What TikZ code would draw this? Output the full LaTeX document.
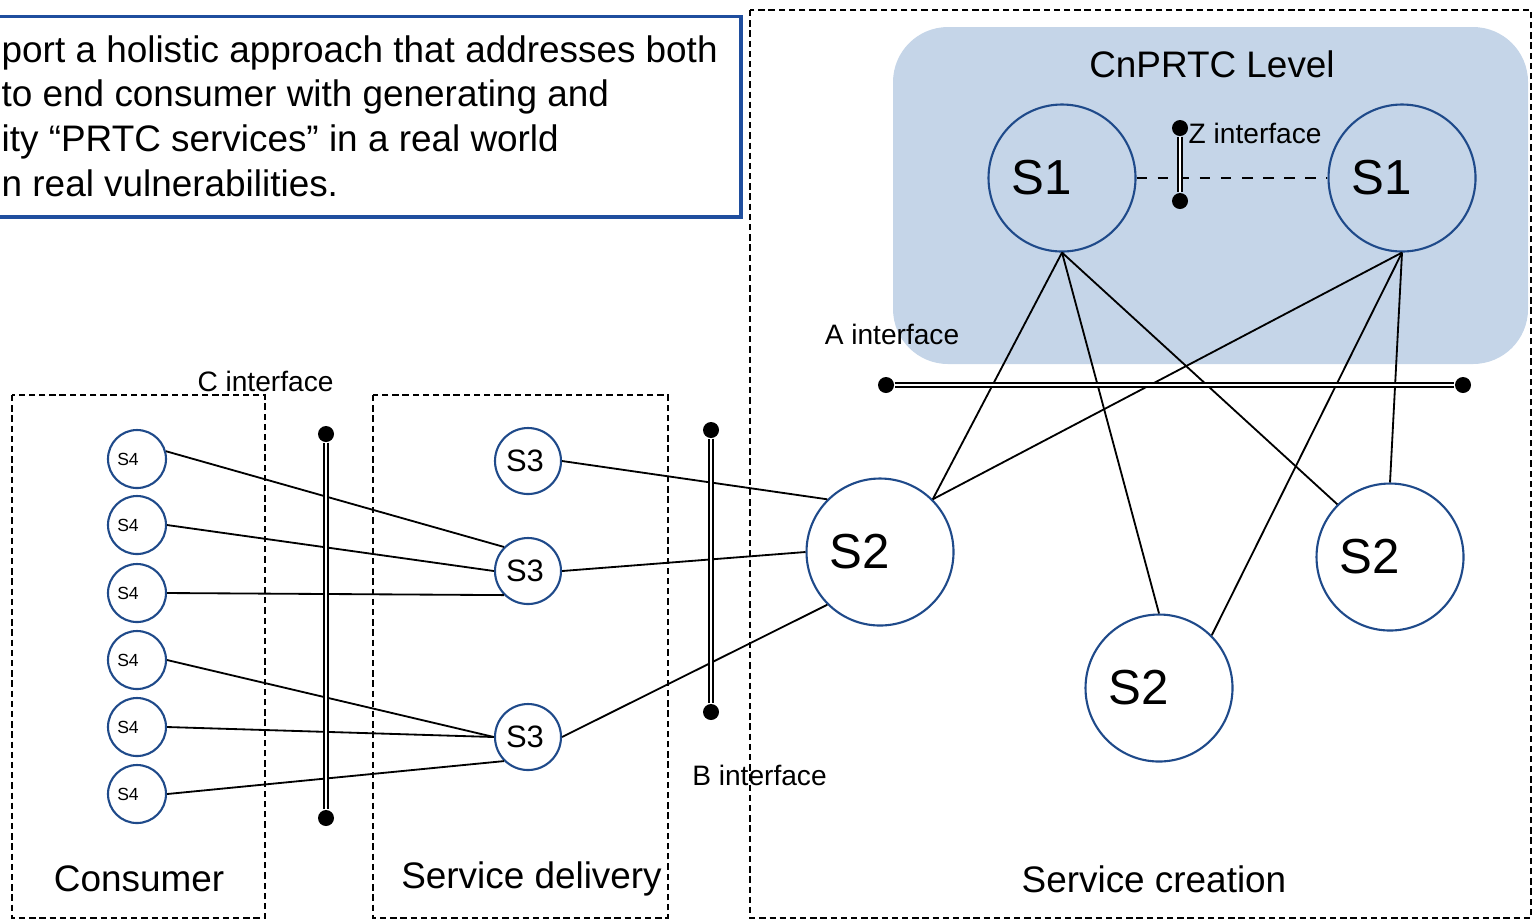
\documentclass[tikz,border=0pt]{standalone}
\usepackage{fontspec}
\setmainfont{Liberation Sans}

\definecolor{boxblue}{HTML}{1F4E9E}
\definecolor{siteblue}{HTML}{1F4A8A}
\definecolor{levelfill}{HTML}{C5D5E8}

\tikzset{
	zone/.style={draw, dash pattern=on 1.8pt off 1.1pt, line width=0.45pt},
	site/.style={circle, draw=siteblue, line width=0.6pt, inner sep=0pt},
	bigsite/.style={site, minimum size=1.47cm,
		label={[xshift=-0.2cm, font=\fontsize{14}{16}\selectfont]center:#1}},
	midsite/.style={site, minimum size=0.66cm,
		label={[xshift=-0.03cm, font=\fontsize{8.8}{10}\selectfont]center:#1}},
	smallsite/.style={site, minimum size=0.58cm,
		label={[xshift=-0.09cm, font=\fontsize{5}{6}\selectfont]center:#1}},
	link/.style={line width=0.52pt},
	iface/.style={double, double distance=0.6pt, line width=0.5pt},
	idot/.style={circle, fill=black, inner sep=0pt, minimum size=0.16cm},
	iname/.style={font=\fontsize{8}{9.5}\selectfont, inner sep=0pt},
	zname/.style={font=\fontsize{10.5}{12.6}\selectfont, inner sep=0pt}
}

\begin{document}
\begin{tikzpicture}
	\useasboundingbox (0,0) rectangle (15.34,-9.20);
	\clip (0,0) rectangle (15.34,-9.20);

	% top level background
	\fill[levelfill, rounded corners=0.55cm] (8.93,-0.27) rectangle (15.28,-3.64);
	\node[zname] (level) at (12.12,-0.64) {CnPRTC Level};

	% aim box
	\draw[boxblue, line width=1.1pt] (-1,-0.165) rectangle (7.41,-2.17);
	\node[anchor=base west, align=left, inner sep=0pt, font=\fontsize{10.5}{12.7}\selectfont] (aim) at (0.01,-1.96) {
		port a holistic approach that addresses both\\
		to end consumer with generating and\\
		ity “PRTC services” in a real world\\
		n real vulnerabilities.
	};

	% zones
	\draw[zone] (0.12,-3.95) rectangle (2.65,-9.18);
	\draw[zone] (3.73,-3.95) rectangle (6.68,-9.18);
	\draw[zone] (7.50,-0.10) rectangle (15.31,-9.18);
	\node[zname] (consumer) at (1.39,-8.79) {Consumer};
	\node[zname] (delivery) at (5.315,-8.79) {Service delivery};
	\node[zname] (creation) at (11.54,-8.79) {Service creation};

	% sites
	\node[bigsite=S1] (s1l) at (10.62,-1.78) {};
	\node[bigsite=S1] (s1r) at (14.02,-1.78) {};
	\node[bigsite=S2] (s2a) at (8.80,-5.52) {};
	\node[bigsite=S2] (s2b) at (11.59,-6.88) {};
	\node[bigsite=S2] (s2c) at (13.90,-5.57) {};
	\node[midsite=S3] (s3a) at (5.28,-4.61) {};
	\node[midsite=S3] (s3b) at (5.28,-5.71) {};
	\node[midsite=S3] (s3c) at (5.28,-7.37) {};
	\node[smallsite=S4] (s4a) at (1.37,-4.59) {};
	\node[smallsite=S4] (s4b) at (1.37,-5.25) {};
	\node[smallsite=S4] (s4c) at (1.37,-5.93) {};
	\node[smallsite=S4] (s4d) at (1.37,-6.60) {};
	\node[smallsite=S4] (s4e) at (1.37,-7.27) {};
	\node[smallsite=S4] (s4f) at (1.37,-7.94) {};

	% links
	\draw[link] (s4a.15) -- (s3b.north west);
	\draw[link] (s4b.east) -- (s3b.west);
	\draw[link] (s4c.east) -- (s3b.south west);
	\draw[link] (s4d.east) -- (s3c.west);
	\draw[link] (s4e.east) -- (s3c.west);
	\draw[link] (s4f.east) -- (s3c.south west);
	\draw[link] (s3a.east) -- (s2a.north west);
	\draw[link] (s3b.east) -- (s2a.west);
	\draw[link] (s3c.east) -- (s2a.south west);
	\draw[link] (s1l.south) -- (s2a.north east);
	\draw[link] (s1l.south) -- (s2b.north);
	\draw[link] (s1l.south) -- (s2c.north west);
	\draw[link] (s1r.south) -- (s2a.north east);
	\draw[link] (s1r.south) -- (s2b.north east);
	\draw[link] (s1r.south) -- (s2c.north);
	\draw[link, dashed] (s1l.east) -- (s1r.west);

	% interfaces
	\node[idot] (ctop) at (3.26,-4.34) {};
	\node[idot] (cbot) at (3.26,-8.18) {};
	\draw[iface] (ctop) -- (cbot);
	\node[iname] (cname) at (2.655,-3.81) {C interface};

	\node[idot] (btop) at (7.11,-4.30) {};
	\node[idot] (bbot) at (7.11,-7.12) {};
	\draw[iface] (btop) -- (bbot);
	\node[iname] (bname) at (7.595,-7.75) {B interface};

	\node[idot] (aleft) at (8.86,-3.85) {};
	\node[idot] (aright) at (14.63,-3.85) {};
	\draw[iface] (aleft) -- (aright);
	\node[iname] (aname) at (8.92,-3.34) {A interface};

	\node[idot] (ztop) at (11.80,-1.28) {};
	\node[idot] (zbot) at (11.80,-2.01) {};
	\draw[iface] (ztop) -- (zbot);
	\node[iname, anchor=west] (zname) at (11.88,-1.33) {Z interface};
\end{tikzpicture}
\end{document}
